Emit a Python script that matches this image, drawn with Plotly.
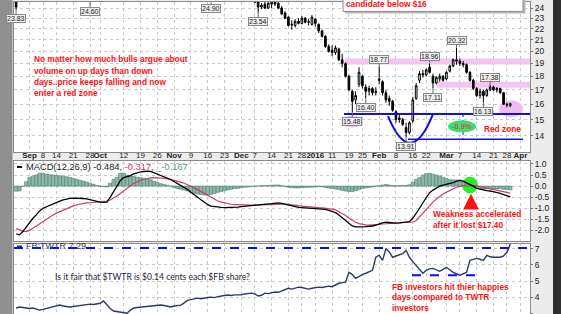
import numpy as np
import pandas as pd
import plotly.graph_objects as go

# ---------------- trading calendar (x positions are trading-day indices) -------------
HOLIDAYS = ['2015-09-07', '2015-11-26', '2015-12-25', '2016-01-01',
            '2016-01-18', '2016-02-15', '2016-03-25']
CAL = [d.strftime('%Y-%m-%d') for d in pd.bdate_range('2015-08-26', '2016-04-01')
       if d.strftime('%Y-%m-%d') not in HOLIDAYS]
N = 148
DATES = CAL[:N]
IDX = list(range(N))

TICK_DATES = ['2015-09-01', '2015-09-08', '2015-09-14', '2015-09-21', '2015-09-28', '2015-10-01',
              '2015-10-12', '2015-10-19', '2015-10-26', '2015-11-02', '2015-11-09', '2015-11-16',
              '2015-11-23', '2015-12-01', '2015-12-07', '2015-12-14', '2015-12-21', '2015-12-28',
              '2016-01-04', '2016-01-11', '2016-01-19', '2016-01-25', '2016-02-01', '2016-02-08',
              '2016-02-16', '2016-02-22', '2016-03-01', '2016-03-07', '2016-03-14', '2016-03-21',
              '2016-03-28', '2016-04-01']
TICK_TEXT = ['<b>Sep</b>', '8', '14', '21', '28', '<b>Oct</b>', '12', '19', '26', '<b>Nov</b>', '9', '16',
             '23', '<b>Dec</b>', '7', '14', '21', '28', '<b>2016</b>', '11', '19', '25', '<b>Feb</b>', '8',
             '16', '22', '<b>Mar</b>', '7', '14', '21', '28', '<b>Apr</b>']

# ---------------- TWTR daily OHLC ----------------
OPEN = [25.2, 25.0, 26.5, 27.0, 26.5, 26.2, 27.1, 26.3, 26.5, 27.3,
        26.7, 27.0, 27.3, 27.0, 28.0, 27.8, 27.3, 27.0, 26.2, 25.8,
        25.4, 26.0, 25.3, 24.9, 25.7, 26.0, 26.2, 27.0, 28.2, 28.6,
        29.2, 28.9, 29.3, 30.0, 29.8, 29.6, 30.4, 30.7, 30.5, 30.0,
        29.5, 30.1, 29.8, 29.2, 28.0, 28.4, 28.5, 28.5, 28.7, 27.9,
        27.3, 26.8, 27.0, 26.3, 25.9, 25.5, 25.2, 25.1, 25.4, 25.1,
        25.8, 26.4, 26.2, 25.7, 25.5, 25.7, 25.5, 25.4, 25.8, 25.3,
        25.0, 25.2, 24.8, 24.1, 24.4, 24.0, 24.4, 24.7, 24.5, 24.0,
        23.5, 23.1, 22.4, 22.3, 22.7, 22.5, 23.0, 22.6, 22.4, 22.9,
        22.4, 21.8, 21.3, 20.4, 20.1, 19.9, 20.2, 19.3, 19.0, 18.0,
        16.9, 16.3, 17.4, 18.0, 17.2, 16.9, 17.1, 16.8, 17.8, 17.6,
        16.8, 16.4, 16.2, 15.5, 15.0, 15.0, 14.5, 14.2, 14.9, 16.4,
        17.7, 18.2, 18.1, 18.7, 18.0, 17.5, 17.8, 18.0, 17.8, 18.4,
        18.8, 19.3, 19.2, 19.0, 18.9, 18.3, 17.7, 17.1, 16.6, 16.9,
        16.6, 17.0, 17.2, 17.0, 17.1, 16.8, 16.0, 16.05]
HIGH = [25.9, 26.8, 27.4, 27.6, 27.0, 27.2, 27.6, 26.6, 27.2, 27.8,
        27.3, 27.6, 27.5, 28.1, 28.4, 28.5, 27.6, 27.3, 26.5, 26.2,
        26.0, 26.2, 25.6, 25.7, 26.2, 26.6, 27.0, 28.3, 28.9, 29.5,
        29.6, 29.4, 30.4, 30.6, 30.2, 30.5, 31.0, 31.2, 30.8, 30.3,
        30.2, 30.6, 30.1, 29.9, 28.6, 28.9, 28.8, 29.0, 28.9, 28.1,
        27.6, 27.3, 27.2, 26.5, 26.2, 25.8, 25.5, 25.6, 25.7, 25.9,
        26.6, 26.9, 26.5, 26.0, 25.9, 25.9, 25.8, 26.1, 26.0, 25.6,
        25.6, 25.4, 25.0, 24.5, 24.8, 24.6, 24.8, 24.9, 24.6, 24.2,
        23.7, 23.2, 22.8, 22.9, 23.0, 23.2, 23.1, 22.9, 23.3, 23.0,
        22.5, 21.9, 21.4, 20.6, 20.5, 20.5, 20.3, 19.8, 19.1, 18.1,
        17.0, 16.9, 18.7, 18.1, 17.4, 17.3, 17.2, 17.2, 18.77, 17.7,
        17.0, 16.6, 16.3, 15.6, 15.3, 15.1, 14.8, 14.9, 16.5, 17.5,
        18.4, 18.5, 18.6, 18.96, 18.2, 18.0, 18.2, 18.1, 18.4, 18.9,
        19.4, 20.32, 19.4, 19.2, 19.0, 18.4, 17.8, 17.2, 17.1, 17.0,
        17.1, 17.38, 17.3, 17.2, 17.15, 16.85, 16.1, 16.1]
LOW = [23.83, 24.9, 26.1, 26.6, 25.8, 26.0, 26.4, 25.6, 26.2, 26.5,
       26.3, 26.8, 26.6, 26.9, 27.5, 27.4, 26.6, 26.3, 25.5, 25.3,
       25.1, 25.2, 24.60, 24.7, 25.3, 25.4, 25.6, 26.9, 27.8, 28.3,
       28.4, 28.5, 29.1, 29.4, 29.0, 29.3, 30.1, 30.3, 29.6, 29.1,
       29.2, 29.5, 29.0, 28.8, 27.2, 28.0, 28.2, 28.1, 27.6, 27.1,
       26.5, 26.4, 26.1, 25.6, 25.4, 25.1, 25.0, 24.95, 24.90, 25.0,
       25.6, 26.0, 25.6, 25.1, 25.2, 25.4, 25.0, 25.2, 25.1, 24.8,
       24.7, 24.5, 23.54, 23.9, 23.9, 23.9, 24.0, 24.2, 23.9, 23.3,
       22.9, 22.2, 21.9, 22.1, 22.4, 22.4, 22.5, 22.3, 22.3, 22.2,
       21.6, 21.2, 20.3, 19.9, 19.6, 19.7, 19.2, 18.7, 17.9, 16.9,
       15.48, 16.0, 17.2, 17.1, 16.40, 16.6, 16.6, 16.6, 17.4, 16.6,
       16.1, 15.9, 15.5, 14.8, 14.8, 14.6, 13.91, 14.1, 14.8, 16.3,
       17.5, 17.9, 18.0, 18.2, 17.11, 17.4, 17.6, 17.6, 17.7, 18.3,
       18.7, 18.9, 18.8, 18.7, 18.2, 17.6, 17.0, 16.5, 16.4, 16.13,
       16.5, 16.9, 16.9, 16.8, 16.7, 15.95, 15.8, 15.8]
CLOSE = [24.1, 26.5, 27.1, 27.3, 26.0, 27.1, 26.6, 25.9, 27.0, 26.7,
         27.1, 27.4, 26.9, 28.0, 27.8, 27.6, 26.9, 26.5, 25.8, 25.6,
         25.8, 25.4, 24.9, 25.5, 25.9, 26.4, 26.8, 28.1, 28.5, 29.2,
         28.8, 29.1, 30.2, 29.7, 29.4, 30.3, 30.8, 30.6, 29.9, 29.3,
         30.0, 29.8, 29.2, 29.6, 28.3, 28.5, 28.45, 28.8, 27.8, 27.3,
         26.7, 27.1, 26.3, 25.8, 25.6, 25.2, 25.1, 25.4, 25.1, 25.8,
         26.4, 26.2, 25.8, 25.4, 25.7, 25.5, 25.3, 25.9, 25.3, 25.0,
         25.4, 24.6, 24.1, 24.3, 24.0, 24.5, 24.6, 24.4, 24.0, 23.4,
         23.0, 22.3, 22.35, 22.7, 22.5, 23.0, 22.6, 22.65, 23.1, 22.5,
         21.8, 21.3, 20.4, 20.0, 19.9, 20.3, 19.3, 19.0, 18.0, 17.0,
         16.2, 16.6, 18.3, 17.3, 16.9, 17.1, 16.8, 16.9, 17.7, 16.8,
         16.3, 16.2, 15.6, 15.0, 15.1, 14.7, 14.2, 14.8, 16.3, 17.3,
         18.2, 18.1, 18.5, 18.3, 17.5, 17.9, 18.0, 17.7, 18.3, 18.8,
         19.3, 19.2, 19.0, 18.9, 18.3, 17.7, 17.1, 16.6, 16.9, 16.6,
         17.0, 17.2, 17.0, 17.1, 16.8, 16.0, 15.95, 15.9]

# ---------------- MACD(12,26,9) ----------------
MACD = [-2.15, -2.2, -2.05, -1.85, -1.6, -1.45, -1.3, -1.12, -1.0, -0.93,
        -0.86, -0.8, -0.74, -0.68, -0.62, -0.58, -0.55, -0.54, -0.54, -0.55,
        -0.56, -0.58, -0.62, -0.66, -0.7, -0.72, -0.73, -0.72, -0.5, -0.25,
        -0.05, 0.25, 0.38, 0.42, 0.47, 0.55, 0.6, 0.64, 0.66, 0.68,
        0.66, 0.6, 0.55, 0.48, 0.42, 0.37, 0.3, 0.2, 0.12, 0.04,
        -0.05, -0.15, -0.28, -0.4, -0.52, -0.63, -0.74, -0.84, -0.9, -0.93,
        -0.95, -0.96, -0.97, -0.97, -0.96, -0.95, -0.95, -0.93, -0.91, -0.9,
        -0.88, -0.86, -0.84, -0.83, -0.81, -0.8, -0.79, -0.77, -0.76, -0.78,
        -0.82, -0.87, -0.91, -0.94, -0.96, -0.97, -0.98, -0.99, -1.0, -0.99,
        -1.0, -1.01, -1.05, -1.1, -1.15, -1.2, -1.3, -1.42, -1.55, -1.68,
        -1.8, -1.84, -1.85, -1.84, -1.83, -1.82, -1.8, -1.76, -1.7, -1.66,
        -1.63, -1.65, -1.67, -1.67, -1.66, -1.65, -1.64, -1.6, -1.45, -1.25,
        -1.0, -0.75, -0.52, -0.3, -0.18, -0.08, 0.0, 0.04, 0.07, 0.1,
        0.16, 0.22, 0.26, 0.22, 0.15, 0.08, 0.0, -0.1, -0.14, -0.18,
        -0.2, -0.22, -0.25, -0.3, -0.33, -0.38, -0.44, -0.484]
SIGNAL = [-1.92, -1.98, -2.03, -2.05, -2.0, -1.9, -1.8, -1.7, -1.58, -1.47,
          -1.37, -1.3, -1.22, -1.15, -1.07, -1.0, -0.94, -0.89, -0.85, -0.81,
          -0.78, -0.76, -0.75, -0.74, -0.73, -0.72, -0.71, -0.68, -0.63, -0.55,
          -0.45, -0.33, -0.2, -0.08, 0.02, 0.12, 0.2, 0.26, 0.31, 0.35,
          0.37, 0.38, 0.38, 0.37, 0.35, 0.33, 0.3, 0.27, 0.23, 0.18,
          0.13, 0.07, 0.0, -0.08, -0.16, -0.25, -0.34, -0.43, -0.52, -0.6,
          -0.67, -0.72, -0.76, -0.8, -0.82, -0.84, -0.85, -0.86, -0.86, -0.86,
          -0.86, -0.86, -0.85, -0.85, -0.84, -0.83, -0.83, -0.82, -0.81, -0.81,
          -0.81, -0.82, -0.84, -0.86, -0.88, -0.9, -0.92, -0.94, -0.95, -0.96,
          -0.97, -0.98, -0.99, -1.01, -1.04, -1.07, -1.15, -1.23, -1.33, -1.44,
          -1.55, -1.63, -1.69, -1.73, -1.75, -1.76, -1.76, -1.75, -1.73, -1.71,
          -1.7, -1.7, -1.69, -1.69, -1.68, -1.68, -1.67, -1.66, -1.62, -1.55,
          -1.38, -1.25, -1.08, -0.88, -0.72, -0.58, -0.46, -0.36, -0.27, -0.19,
          -0.12, -0.05, -0.01, 0.03, 0.05, 0.05, 0.04, 0.01, -0.02, -0.05,
          -0.08, -0.11, -0.14, -0.17, -0.21, -0.24, -0.28, -0.317]
HIST = [-0.23, -0.22, -0.02, 0.2, 0.4, 0.45, 0.5, 0.58, 0.58, 0.54,
        0.51, 0.5, 0.48, 0.47, 0.45, 0.42, 0.39, 0.35, 0.31, 0.26,
        0.22, 0.18, 0.13, 0.08, 0.03, 0.0, -0.02, -0.04, 0.13, 0.3,
        0.4, 0.58, 0.58, 0.5, 0.45, 0.43, 0.4, 0.38, 0.35, 0.33,
        0.29, 0.22, 0.17, 0.11, 0.07, 0.04, 0.0, -0.07, -0.11, -0.14,
        -0.18, -0.22, -0.28, -0.32, -0.36, -0.38, -0.4, -0.41, -0.38, -0.33,
        -0.28, -0.24, -0.21, -0.17, -0.14, -0.11, -0.1, -0.07, -0.05, -0.04,
        -0.02, 0.0, 0.01, 0.02, 0.03, 0.03, 0.04, 0.05, 0.05, 0.03,
        -0.01, -0.05, -0.07, -0.08, -0.08, -0.07, -0.06, -0.05, -0.05, -0.03,
        -0.03, -0.03, -0.06, -0.09, -0.11, -0.13, -0.15, -0.19, -0.22, -0.24,
        -0.25, -0.21, -0.16, -0.11, -0.08, -0.06, -0.04, -0.01, 0.03, 0.05,
        0.07, 0.05, 0.02, 0.02, 0.02, 0.03, 0.03, 0.06, 0.17, 0.3,
        0.38, 0.5, 0.56, 0.58, 0.54, 0.5, 0.46, 0.4, 0.34, 0.29,
        0.28, 0.27, 0.27, 0.19, 0.1, 0.03, -0.04, -0.09, -0.12, -0.13,
        -0.12, -0.11, -0.11, -0.13, -0.12, -0.14, -0.16, -0.167]

# ---------------- FB:TWTR ratio ----------------
RATIO = [3.33, 3.39, 3.36, 3.33, 3.3, 3.33, 3.25, 3.2, 3.24, 3.3,
         3.33, 3.4, 3.47, 3.51, 3.45, 3.42, 3.39, 3.42, 3.45, 3.45,
         3.5, 3.55, 3.57, 3.55, 3.6, 3.62, 3.76, 3.51, 3.3, 3.14,
         3.1, 3.08, 3.05, 3.0, 3.2, 3.33, 3.36, 3.38, 3.4, 3.42,
         3.45, 3.43, 3.48, 3.51, 3.48, 3.42, 3.39, 3.45, 3.5, 3.51,
         3.65, 3.8, 3.85, 3.88, 3.94, 3.9, 3.95, 3.98, 4.0, 3.97,
         4.03, 4.08, 4.1, 4.13, 4.1, 4.14, 4.13, 4.15, 4.2, 4.22,
         4.25, 4.2, 4.07, 4.12, 4.25, 4.22, 4.28, 4.32, 4.3, 4.38,
         4.45, 4.55, 4.5, 4.58, 4.62, 4.6, 4.55, 4.5, 4.55, 4.6,
         4.62, 4.6, 4.65, 4.68, 4.65, 4.75, 4.86, 4.9, 4.93, 5.54,
         5.4, 5.17, 5.3, 5.4, 5.48, 5.55, 5.66, 6.47, 6.6, 6.28,
         7.0, 6.8, 6.47, 6.55, 6.65, 6.7, 6.9, 6.47, 6.2, 5.97,
         5.7, 5.48, 5.66, 5.75, 5.78, 5.7, 5.6, 5.72, 5.85, 5.7,
         5.54, 5.45, 5.35, 5.45, 5.54, 6.28, 6.35, 6.4, 6.35, 6.28,
         6.59, 6.5, 6.47, 6.45, 6.47, 6.55, 6.78, 7.29]

# annotated price points: (trading-day index, value, below?)
PRICE_LABELS = [(0, 23.83, True), (22, 24.60, True), (72, 23.54, True), (108, 18.77, False),
                (104, 16.40, True), (100, 15.48, True), (123, 18.96, False), (124, 17.11, True),
                (131, 20.32, False), (141, 17.38, False), (139, 16.13, True), (116, 13.91, True)]

# drawn levels
RESIST_1 = (18.92, 19.40)
RESIST_2 = (17.15, 17.60)
SUPPORT = 15.35
LOWLINE = 13.80
RATIO_TOP = 7.04
RATIO_LOW = 5.35

# ---------------- geometry helpers ----------------
W, H = 561, 314
ML, MR = 14, 31
PW = W - ML - MR
def PX(px):
    return (px - ML) / PW
def PY(py):
    return (H - py) / H
def IX(px):  # pixel -> index on the x axis
    return XR[0] + (px - ML) / PW * (XR[1] - XR[0])

XR = [-0.625, 152.86]
PRICE_R = [np.log10(13.08), np.log10(24.62)]
MACD_R = [-2.498, 1.134]
RATIO_R = [2.957, 7.326]

TICKPOS = [CAL.index(d) for d in TICK_DATES]

FONT = 'Liberation Sans, Arial, sans-serif'
RED = '#ff1010'
GRID = '#c9c9c9'

fig = go.Figure()

body_idx = IDX[:-1]
fig.add_trace(go.Candlestick(
    x=body_idx, open=OPEN[:-1], high=HIGH[:-1], low=LOW[:-1], close=CLOSE[:-1],
    increasing=dict(line=dict(color='black', width=1), fillcolor='white'),
    decreasing=dict(line=dict(color='black', width=1), fillcolor='black'),
    whiskerwidth=0, showlegend=False, hoverinfo='skip', xaxis='x', yaxis='y'))
fig.add_trace(go.Candlestick(
    x=IDX[-1:], open=OPEN[-1:], high=HIGH[-1:], low=LOW[-1:], close=CLOSE[-1:],
    increasing=dict(line=dict(color='#0d3d0d', width=1), fillcolor='#1f6a1f'),
    decreasing=dict(line=dict(color='#0d3d0d', width=1), fillcolor='#1f6a1f'),
    whiskerwidth=0, showlegend=False, hoverinfo='skip', xaxis='x', yaxis='y'))

fig.add_trace(go.Bar(x=IDX, y=HIST, marker=dict(color='#8cb8a8', line=dict(color='#4f7f70', width=0.6)),
                     width=1.0, showlegend=False, hoverinfo='skip', xaxis='x2', yaxis='y2'))
fig.add_trace(go.Scatter(x=IDX, y=SIGNAL, mode='lines', line=dict(color='#c8406e', width=1.2),
                         showlegend=False, hoverinfo='skip', xaxis='x2', yaxis='y2'))
fig.add_trace(go.Scatter(x=IDX, y=MACD, mode='lines', line=dict(color='black', width=1.3),
                         showlegend=False, hoverinfo='skip', xaxis='x2', yaxis='y2'))

fig.add_trace(go.Scatter(x=IDX, y=RATIO, mode='lines', line=dict(color='#2c3a66', width=1.4),
                         showlegend=False, hoverinfo='skip', xaxis='x3', yaxis='y3'))

xcommon = dict(range=XR, tickvals=TICKPOS, ticktext=TICK_TEXT, tickangle=0, showgrid=True,
               gridcolor=GRID, griddash='dot', gridwidth=1, zeroline=False, ticks='',
               fixedrange=True)
ycommon = dict(side='right', showgrid=True, gridcolor=GRID, griddash='dot', zeroline=False,
               ticks='outside', ticklen=2, tickcolor='#777', showline=True, mirror=True,
               linecolor='#8a8a8a', tickfont=dict(family=FONT, size=8.5, color='#222'))

fig.update_layout(
    width=W, height=H, margin=dict(l=ML, r=MR, t=0, b=0),
    paper_bgcolor='#ececec', plot_bgcolor='white',
    xaxis=dict(**xcommon, domain=[0, 1], anchor='y', showticklabels=True, showline=True, mirror=True,
               linecolor='#8a8a8a', tickfont=dict(family=FONT, size=8, color='#222'),
               ticklabelstandoff=-5, rangeslider=dict(visible=False)),
    xaxis2=dict(**xcommon, domain=[0, 1], anchor='y2', matches='x', showticklabels=False,
                showline=True, mirror=True, linecolor='#8a8a8a'),
    xaxis3=dict(**xcommon, domain=[0, 1], anchor='y3', matches='x', showticklabels=False,
                showline=False),
    yaxis=dict(**ycommon, domain=[(H - 151) / H, 1], type='log', range=PRICE_R,
               tickvals=list(range(14, 25)), ticktext=[str(v) for v in range(14, 25)], fixedrange=True),
    yaxis2=dict(**ycommon, domain=[(H - 241) / H, (H - 160) / H], range=MACD_R,
                tickvals=[-2, -1.5, -1, -0.5, 0, 0.5, 1],
                ticktext=['-2.0', '-1.5', '-1.0', '-0.5', '0.0', '0.5', '1.0'], fixedrange=True),
    yaxis3=dict(**ycommon, domain=[0, (H - 243) / H], range=RATIO_R,
                tickvals=[3, 4, 5, 6, 7], ticktext=['3', '4', '5', '6', '7'], fixedrange=True),
)

L10 = np.log10
shapes = []
# frame strips
shapes.append(dict(type='rect', xref='paper', yref='paper', x0=PX(-2), x1=PX(12.5), y0=-0.05, y1=1.05,
                   fillcolor='#8f8f8f', line=dict(width=0), layer='above'))
shapes.append(dict(type='rect', xref='paper', yref='paper', x0=PX(553), x1=PX(565), y0=-0.05, y1=1.05,
                   fillcolor='#2f2f2f', line=dict(width=0), layer='above'))
# ratio panel top border
shapes.append(dict(type='line', xref='paper', yref='paper', x0=0, x1=1, y0=PY(243), y1=PY(243),
                   line=dict(color='#8a8a8a', width=1)))
# resistance bands
shapes.append(dict(type='rect', xref='x', yref='y', x0=IX(345), x1=XR[1], y0=RESIST_1[0], y1=RESIST_1[1],
                   fillcolor='#f6c4f0', line=dict(width=0), layer='between'))
shapes.append(dict(type='rect', xref='x', yref='y', x0=IX(437), x1=XR[1], y0=RESIST_2[0], y1=RESIST_2[1],
                   fillcolor='#f6c4f0', line=dict(width=0), layer='between'))
# pink ellipses
shapes.append(dict(type='circle', xref='x', yref='y', x0=IX(341), x1=IX(363), y0=14.5, y1=15.25,
                   fillcolor='#f0bcef', line=dict(width=0), layer='between'))
shapes.append(dict(type='circle', xref='x', yref='y', x0=IX(499), x1=IX(523), y0=15.15, y1=16.25,
                   fillcolor='#f0bcef', line=dict(width=0), layer='between'))
# support / low lines
shapes.append(dict(type='line', xref='x', yref='y', x0=IX(344), x1=XR[1], y0=SUPPORT, y1=SUPPORT,
                   line=dict(color='#1010e0', width=2)))
shapes.append(dict(type='line', xref='x', yref='y', x0=IX(408), x1=IX(523), y0=LOWLINE, y1=LOWLINE,
                   line=dict(color='#1010e0', width=1.5)))
# cup curve
shapes.append(dict(type='path', xref='x', yref='y',
                   path=f'M {IX(388)},15.22 Q {IX(410.5)},12.1 {IX(433)},15.34',
                   line=dict(color='#1010e0', width=2)))
# measuring dotted line + green badge
shapes.append(dict(type='line', xref='x', yref='y', x0=IX(463), x1=IX(463), y0=SUPPORT, y1=LOWLINE,
                   line=dict(color='#1010e0', width=1, dash='dot')))
shapes.append(dict(type='circle', xref='x', yref='y', x0=IX(448), x1=IX(476), y0=14.2, y1=14.95,
                   fillcolor='#36e06a', line=dict(width=0)))
# top note box (with a soft shadow)
shapes.append(dict(type='rect', xref='paper', yref='paper', x0=PX(345), x1=PX(525.5), y0=PY(11.5), y1=1.2,
                   fillcolor='#b8b8b8', line=dict(width=0)))
shapes.append(dict(type='rect', xref='paper', yref='paper', x0=PX(343), x1=PX(523), y0=PY(9.5), y1=1.2,
                   fillcolor='white', line=dict(color='#8c8c8c', width=1)))
# MACD crossover circle
shapes.append(dict(type='circle', xref='x2', yref='y2', x0=IX(462), x1=IX(478), y0=-0.33, y1=0.42,
                   fillcolor='#27ee27', line=dict(width=0), layer='between'))
# legend dashes
shapes.append(dict(type='line', xref='paper', yref='paper', x0=PX(17), x1=PX(22), y0=PY(166), y1=PY(166),
                   line=dict(color='black', width=2)))
shapes.append(dict(type='line', xref='paper', yref='paper', x0=PX(17), x1=PX(22), y0=PY(246), y1=PY(246),
                   line=dict(color='#2c3a66', width=2)))
# ratio dashed lines
shapes.append(dict(type='line', xref='x3', yref='y3', x0=XR[0], x1=XR[1], y0=RATIO_TOP, y1=RATIO_TOP,
                   line=dict(color='#0a0aff', width=2, dash='dash')))
shapes.append(dict(type='line', xref='x3', yref='y3', x0=IX(412), x1=IX(479), y0=RATIO_LOW, y1=RATIO_LOW,
                   line=dict(color='#0a0aff', width=2, dash='dash')))
fig.update_layout(shapes=shapes)

ann = []
for i, v, below in PRICE_LABELS:
    ann.append(dict(x=i, y=L10(v), xref='x', yref='y', text=f'{v:.2f}', showarrow=True, arrowhead=0,
                    arrowwidth=1, arrowcolor='#666', ax=0, ay=(9 if below else -7),
                    font=dict(family=FONT, size=7, color='#222'), bgcolor='#eeeeee',
                    bordercolor='#8a8a8a', borderwidth=1, borderpad=0))
# 24.90 low sits above the visible window
ann.append(dict(x=58, y=L10(24.58), xref='x', yref='y', text='24.90', showarrow=True, arrowhead=0,
                arrowwidth=1, arrowcolor='#666', ax=0, ay=6, font=dict(family=FONT, size=7, color='#222'),
                bgcolor='#eeeeee', bordercolor='#8a8a8a', borderwidth=1, borderpad=0))

def txt(s, px, py, color=RED, size=8.3, bold=True, anchor='left'):
    return dict(x=PX(px), y=PY(py), xref='paper', yref='paper', text=(f'<b>{s}</b>' if bold else s),
                showarrow=False, xanchor=anchor, yanchor='middle',
                font=dict(family=FONT, size=size, color=color))

for k, line in enumerate(['No matter how much bulls argue about', 'volume on up days than down',
                          'days..price keeps falling and now', 'enter a red zone']):
    ann.append(txt(line, 31.5, [57.3, 69.3, 80.7, 91.7][k]))
ann.append(txt('candidate below $16', 344, 2.5))
ann.append(txt('Red zone', 482, 127.5))
ann.append(txt('-0.9%', 462, 125.5, color='#e0406a', size=7.5, anchor='center'))
ann.append(txt('Weakness accelerated', 431, 213.3))
ann.append(txt('after it lost $17.40', 431, 224))
for k, line in enumerate(['FB investors hit thier happies', 'days compared to TWTR', 'investors']):
    ann.append(txt(line, 390, [286.7, 297.3, 308][k]))
ann.append(txt('Is it fair that $TWTR is $0.14 cents each $FB share?', 53, 277, color='#1c2440',
               size=8.6, bold=False))
ann[-1]['font']['family'] = 'Lato, Open Sans, sans-serif'
ann.append(txt("MACD(12,26,9) -0.484, <span style='color:#d0306a'>-0.317</span>, "
               "<span style='color:#4f9a85'>_-0.167</span>", 24, 166, color='#222', size=9.3, bold=False))
ann.append(txt('FB:TWTR 7.29', 24, 246, color='#2c3a66', size=9, bold=False))
# red arrow
ann.append(dict(x=IX(471), y=-0.34, xref='x2', yref='y2', text='', showarrow=True, arrowhead=2,
                arrowsize=0.9, arrowwidth=3.5, arrowcolor='#ff1010', ax=0, ay=13))
fig.update_layout(annotations=ann)

fig.write_html('out.html', config={'displayModeBar': False})
